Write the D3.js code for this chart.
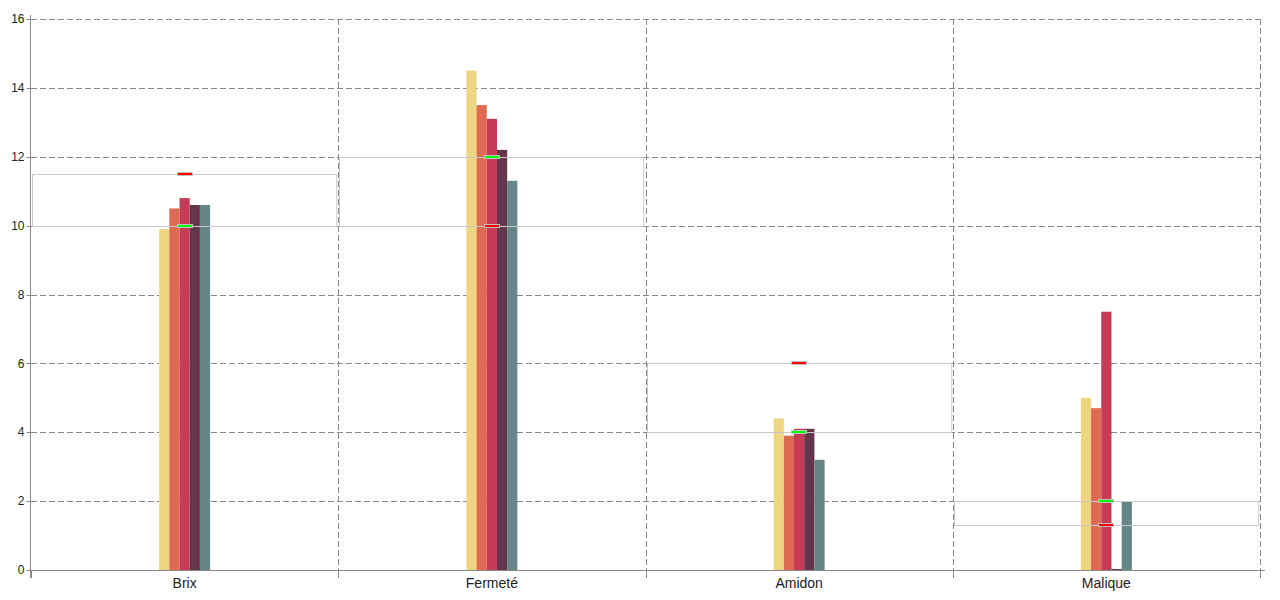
<!DOCTYPE html>
<html>
<head>
<meta charset="utf-8">
<script src="https://cdn.jsdelivr.net/npm/d3@7"></script>
<style>
  body { margin: 0; background: #fff; }
  svg { display: block; }
  text { font-family: Arial, "Liberation Sans", sans-serif; fill: #222; }
</style>
</head>
<body>
<svg id="chart" width="1280" height="600"></svg>
<script>
const categories = ["Brix", "Fermeté", "Amidon", "Malique"];
const seriesNames = ["S1", "S2", "S3", "S4", "S5"];
const seriesColors = ["#EDD582", "#DF6A54", "#C63C56", "#64364C", "#668587"];
const seriesValues = [
  [9.9, 14.5, 4.4, 5.0],
  [10.5, 13.5, 3.9, 4.7],
  [10.8, 13.1, 4.1, 7.5],
  [10.6, 12.2, 4.1, 0.03],
  [10.6, 11.3, 3.2, 2.0]
];
const rangeLow = [10, 10, 4, 1.3];
const rangeHigh = [11.5, 12, 6, 2];
const greenMarker = [10, 12, 4, 2];
const redMarker = [11.5, 10, 6, 1.3];
const yTicks = [0, 2, 4, 6, 8, 10, 12, 14, 16];

const svg = d3.select("#chart");
const plotLeft = 31, plotRight = 1260, plotTop = 19, plotBottom = 570;

const x = d3.scaleBand().domain(categories).range([plotLeft, plotRight]).padding(0);
const y = d3.scaleLinear().domain([0, 16]).range([plotBottom, plotTop]);
const groupW = 51;
const xs = d3.scaleBand().domain(seriesNames).range([0, groupW]).padding(0);

// horizontal dashed gridlines
svg.append("g").selectAll("line").data(yTicks.filter(d => d > 0)).join("line")
  .attr("x1", plotLeft).attr("x2", plotRight)
  .attr("y1", d => Math.round(y(d)) + 0.5).attr("y2", d => Math.round(y(d)) + 0.5)
  .attr("stroke", "#888").attr("stroke-dasharray", "6,3");

// vertical dashed gridlines at band boundaries
const bounds = categories.map(c => x(c) + x.bandwidth());
svg.append("g").selectAll("line").data(bounds).join("line")
  .attr("x1", d => Math.round(d) + 0.5).attr("x2", d => Math.round(d) + 0.5)
  .attr("y1", plotTop).attr("y2", plotBottom)
  .attr("stroke", "#888").attr("stroke-dasharray", "6,3");

// bars
seriesNames.forEach((s, si) => {
  svg.append("g").selectAll("rect").data(categories).join("rect")
    .attr("x", c => x(c) + x.bandwidth() / 2 - groupW / 2 + xs(s))
    .attr("width", xs.bandwidth())
    .attr("y", (c, i) => y(seriesValues[si][i]))
    .attr("height", (c, i) => Math.max(1, plotBottom - y(seriesValues[si][i])))
    .attr("fill", seriesColors[si]);
});

// range boxes
svg.append("g").selectAll("rect").data(categories).join("rect")
  .attr("x", c => Math.round(x(c)) + 1.5)
  .attr("width", x.bandwidth() - 3)
  .attr("y", (c, i) => Math.round(y(rangeHigh[i])) + 0.5)
  .attr("height", (c, i) => Math.round(y(rangeLow[i])) - Math.round(y(rangeHigh[i])))
  .attr("fill", "none").attr("stroke", "#c8c8c8");

// markers
function markers(vals, color) {
  svg.append("g").selectAll("rect").data(categories).join("rect")
    .attr("x", c => Math.round(x(c) + x.bandwidth() / 2) - 7.5)
    .attr("width", 15)
    .attr("y", (c, i) => Math.round(y(vals[i])) - 1.5)
    .attr("height", 3)
    .attr("fill", color).attr("stroke", "#c0c0c0");
}
markers(greenMarker, "#00FF00");
markers(redMarker, "#FF0000");

// y axis
const yAxis = svg.append("g").attr("transform", `translate(${plotLeft - 0.5},0)`);
yAxis.append("line").attr("x1", 0).attr("x2", 0).attr("y1", 15).attr("y2", 578).attr("stroke", "#888");
yAxis.selectAll("line.t").data(yTicks).join("line").attr("class", "t")
  .attr("x1", -4).attr("x2", 0)
  .attr("y1", d => Math.round(y(d)) + 0.5).attr("y2", d => Math.round(y(d)) + 0.5)
  .attr("stroke", "#888");
yAxis.selectAll("text").data(yTicks).join("text")
  .attr("x", -6).attr("y", d => y(d)).attr("dy", "0.35em")
  .attr("text-anchor", "end").attr("font-size", 12).text(d => d);

// x axis
const xAxis = svg.append("g");
xAxis.append("line").attr("x1", plotLeft - 4).attr("x2", plotRight + 5)
  .attr("y1", plotBottom + 0.5).attr("y2", plotBottom + 0.5).attr("stroke", "#888");
xAxis.selectAll("line.t").data([plotLeft, ...bounds]).join("line").attr("class", "t")
  .attr("x1", d => Math.round(d) + 0.5).attr("x2", d => Math.round(d) + 0.5)
  .attr("y1", plotBottom).attr("y2", plotBottom + 8).attr("stroke", "#888");
xAxis.selectAll("text").data(categories).join("text")
  .attr("x", c => x(c) + x.bandwidth() / 2).attr("y", 588)
  .attr("text-anchor", "middle").attr("font-size", 14).text(c => c);
</script>
</body>
</html>
